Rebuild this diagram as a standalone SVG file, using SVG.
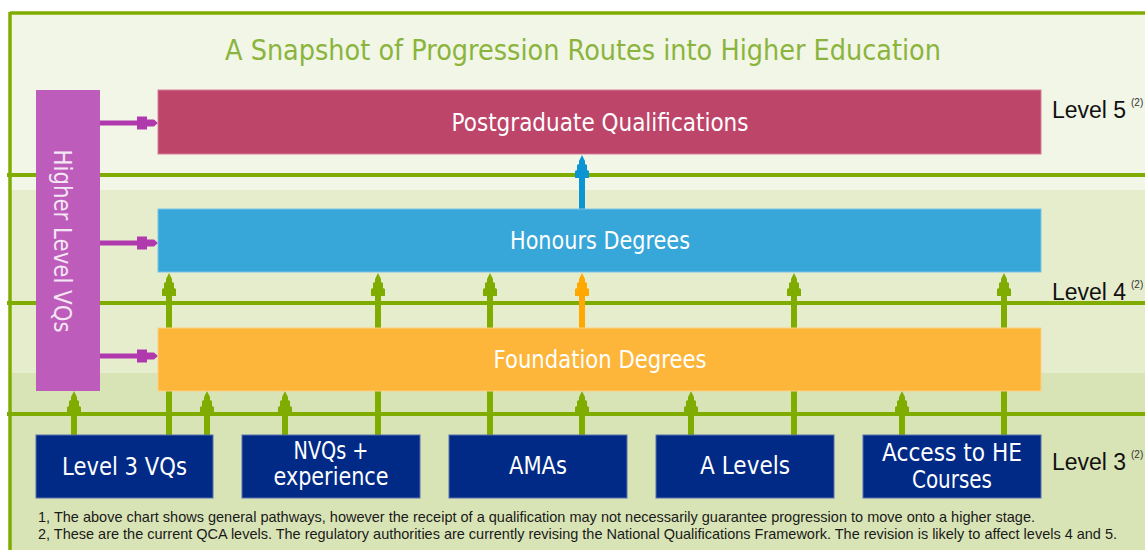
<svg xmlns="http://www.w3.org/2000/svg" xmlns:xlink="http://www.w3.org/1999/xlink" width="1145" height="550" viewBox="0 0 1145 550">
<style>
.lbl{font-family:"DejaVu Sans","Noto Sans",sans-serif;font-size:24px;fill:#ffffff;text-anchor:middle}
.lvl{font-family:"Liberation Sans",Arial,sans-serif;font-size:23px;fill:#111111}
.sup{font-family:"Liberation Sans",Arial,sans-serif;font-size:10px;fill:#333333}
.note{font-family:"Liberation Sans","Noto Sans",sans-serif;font-size:14.5px;fill:#1a1a1a}
.grid{stroke:#80ac00;stroke-width:4;fill:none}
.shaft{stroke:#80ac00;stroke-width:6;fill:none}
.navy{fill:#002a86;stroke:#5a6fae;stroke-width:1}
</style>
<defs>
<path id="up" d="M0,0 L3,6 L3,9 L5,10 L5,15 L7,16 L7,23 L-7,23 L-7,16 L-5,15 L-5,10 L-3,9 L-3,6 Z"/>
<path id="rt" d="M0,0 L-4,-3.5 L-11,-3.5 L-11,-6.5 L-21,-6.5 L-21,6.5 L-11,6.5 L-11,3.5 L-4,3.5 Z"/>
</defs>

<g id="background">
<rect x="10" y="13" width="1135" height="177" fill="#f2f6e6"/>
<rect x="10" y="190" width="1135" height="183" fill="#e6edcd"/>
<rect x="10" y="373" width="1135" height="177" fill="#d9e4b6"/>
<line class="grid" x1="10" y1="13" x2="1145" y2="13" style="stroke-width:3.5"/>
<line class="grid" x1="10" y1="12" x2="10" y2="550" style="stroke-width:3.5"/>
<line class="grid" x1="7" y1="175" x2="1145" y2="175"/>
<line class="grid" x1="7" y1="303" x2="1145" y2="303"/>
<line class="grid" x1="7" y1="414" x2="1145" y2="414"/>
</g>

<text id="title" x="583" y="60" font-family="DejaVu Sans,Noto Sans,sans-serif" font-size="28" fill="#8ab43c" text-anchor="middle" textLength="716" lengthAdjust="spacingAndGlyphs">A Snapshot of Progression Routes into Higher Education</text>

<g id="connectors">
<line class="shaft" x1="74" y1="435" x2="74" y2="402"/>
<use xlink:href="#up" x="74" y="391" fill="#80ac00"/>
<line class="shaft" x1="169" y1="435" x2="169" y2="283"/>
<use xlink:href="#up" x="169" y="273" fill="#80ac00"/>
<line class="shaft" x1="207" y1="435" x2="207" y2="402"/>
<use xlink:href="#up" x="207" y="391" fill="#80ac00"/>
<line class="shaft" x1="285" y1="435" x2="285" y2="402"/>
<use xlink:href="#up" x="285" y="391" fill="#80ac00"/>
<line class="shaft" x1="378" y1="435" x2="378" y2="283"/>
<use xlink:href="#up" x="378" y="273" fill="#80ac00"/>
<line class="shaft" x1="490" y1="435" x2="490" y2="283"/>
<use xlink:href="#up" x="490" y="273" fill="#80ac00"/>
<line class="shaft" x1="582" y1="435" x2="582" y2="402"/>
<use xlink:href="#up" x="582" y="391" fill="#80ac00"/>
<line class="shaft" x1="691" y1="435" x2="691" y2="402"/>
<use xlink:href="#up" x="691" y="391" fill="#80ac00"/>
<line class="shaft" x1="794" y1="435" x2="794" y2="283"/>
<use xlink:href="#up" x="794" y="273" fill="#80ac00"/>
<line class="shaft" x1="902" y1="435" x2="902" y2="402"/>
<use xlink:href="#up" x="902" y="391" fill="#80ac00"/>
<line class="shaft" x1="1004" y1="435" x2="1004" y2="283"/>
<use xlink:href="#up" x="1004" y="273" fill="#80ac00"/>
<line x1="582" y1="330" x2="582" y2="283" stroke="#ffa800" stroke-width="6"/>
<use xlink:href="#up" x="582" y="273" fill="#ffa800"/>
<line x1="582" y1="211" x2="582" y2="165" stroke="#0b95d2" stroke-width="6"/>
<use xlink:href="#up" x="582" y="155" fill="#0b95d2"/>
<line x1="100" y1="123" x2="140" y2="123" stroke="#b03aad" stroke-width="5"/>
<use xlink:href="#rt" x="158" y="123" fill="#b03aad"/>
<line x1="100" y1="243" x2="140" y2="243" stroke="#b03aad" stroke-width="5"/>
<use xlink:href="#rt" x="158" y="243" fill="#b03aad"/>
<line x1="100" y1="356" x2="140" y2="356" stroke="#b03aad" stroke-width="5"/>
<use xlink:href="#rt" x="158" y="356" fill="#b03aad"/>
</g>

<g id="higher-level-vqs">
<rect x="36" y="90" width="64" height="301" fill="#bd5cbb"/>
<text class="lbl" transform="translate(54,241) rotate(90)" textLength="183" lengthAdjust="spacingAndGlyphs" style="fill:#f4e6f4">Higher Level VQs</text>
</g>

<g id="postgraduate">
<rect x="158" y="90" width="883" height="64" fill="#bd4569" stroke="#d77f9a" stroke-width="1"/>
<text class="lbl" x="600" y="131" textLength="297" lengthAdjust="spacingAndGlyphs">Postgraduate Qualifications</text>
</g>

<g id="honours">
<rect x="158" y="209" width="883" height="63" fill="#37a6d9" stroke="#7cc6e8" stroke-width="1"/>
<text class="lbl" x="600" y="249" textLength="180" lengthAdjust="spacingAndGlyphs">Honours Degrees</text>
</g>

<g id="foundation">
<rect x="158" y="328" width="883" height="63" fill="#fdb63a" stroke="#fdd083" stroke-width="1"/>
<text class="lbl" x="600" y="368" textLength="213" lengthAdjust="spacingAndGlyphs">Foundation Degrees</text>
</g>

<g id="level3-vqs">
<rect class="navy" x="36" y="435" width="177" height="63"/>
<text class="lbl" x="124.5" y="475" textLength="125" lengthAdjust="spacingAndGlyphs">Level 3 VQs</text>
</g>

<g id="nvqs">
<rect class="navy" x="242" y="435" width="178" height="63"/>
<text class="lbl" x="331" y="459" textLength="75" lengthAdjust="spacingAndGlyphs">NVQs +</text>
<text class="lbl" x="331" y="485" textLength="115" lengthAdjust="spacingAndGlyphs">experience</text>
</g>

<g id="amas">
<rect class="navy" x="449" y="435" width="178" height="63"/>
<text class="lbl" x="538" y="474" textLength="58" lengthAdjust="spacingAndGlyphs">AMAs</text>
</g>

<g id="a-levels">
<rect class="navy" x="656" y="435" width="178" height="63"/>
<text class="lbl" x="745" y="474" textLength="90" lengthAdjust="spacingAndGlyphs">A Levels</text>
</g>

<g id="access">
<rect class="navy" x="863" y="435" width="178" height="63"/>
<text class="lbl" x="952" y="461" textLength="140" lengthAdjust="spacingAndGlyphs">Access to HE</text>
<text class="lbl" x="952" y="488" textLength="80" lengthAdjust="spacingAndGlyphs">Courses</text>
</g>

<g id="level-labels">
<text class="lvl" x="1052" y="118">Level 5</text>
<text class="sup" x="1131" y="106">(2)</text>
<text class="lvl" x="1052" y="300">Level 4</text>
<text class="sup" x="1131" y="288">(2)</text>
<text class="lvl" x="1052" y="470">Level 3</text>
<text class="sup" x="1131" y="458">(2)</text>
</g>

<g id="notes">
<text class="note" x="38" y="522" textLength="997" lengthAdjust="spacingAndGlyphs">1, The above chart shows general pathways, however the receipt of a qualification may not necessarily guarantee progression to move onto a higher stage.</text>
<text class="note" x="38" y="539" textLength="1079" lengthAdjust="spacingAndGlyphs">2, These are the current QCA levels. The regulatory authorities are currently revising the National Qualifications Framework. The revision is likely to affect levels 4 and 5.</text>
</g>
</svg>
